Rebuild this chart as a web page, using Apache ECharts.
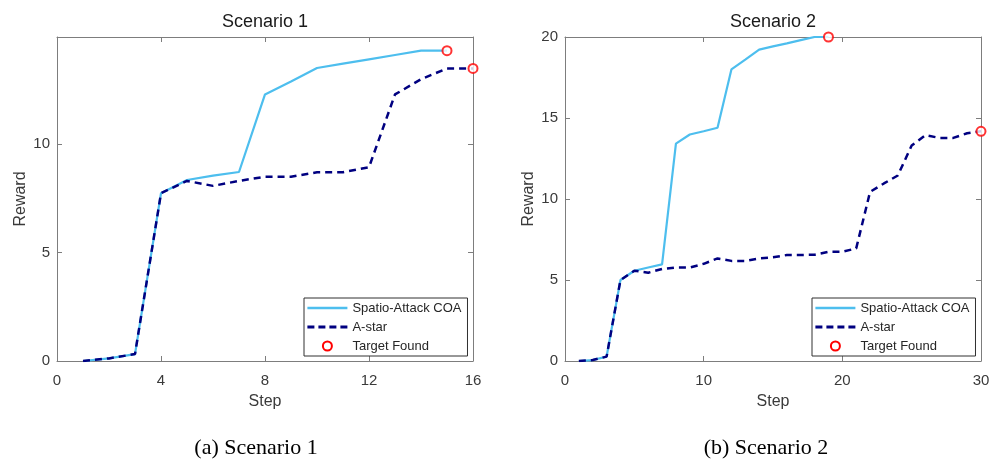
<!DOCTYPE html>
<html>
<head>
<meta charset="utf-8">
<script src="https://cdn.jsdelivr.net/npm/echarts@6/dist/echarts.min.js"></script>
<style>
html,body{margin:0;padding:0;background:#fff;}
#chart{width:1000px;height:468px;}
</style>
</head>
<body>
<div id="chart"></div>
<script>
// ---- data ----
const seriesNames = ['Spatio-Attack COA', 'A-star', 'Target Found'];
const plotTitles = ['Scenario 1', 'Scenario 2'];
const captions = ['(a) Scenario 1', '(b) Scenario 2'];
const xAxisTicks1 = [0, 4, 8, 12, 16];
const yAxisTicks1 = [0, 5, 10];
const xAxisTicks2 = [0, 10, 20, 30];
const yAxisTicks2 = [0, 5, 10, 15, 20];

// Scenario 1 (steps start at 1)
const coaS1 = [0, 0.12, 0.32, 7.74, 8.35, 8.55, 8.72, 12.3, 12.9, 13.52, 13.72, 13.92, 14.12, 14.32, 14.32];
const astarS1 = [0, 0.12, 0.32, 7.74, 8.31, 8.08, 8.31, 8.5, 8.5, 8.71, 8.71, 8.94, 12.3, 13.0, 13.5, 13.5];
// Scenario 2
const coaS2 = [0, 0.06, 0.27, 5.0, 5.57, 5.77, 5.96, 13.42, 13.98, 14.18, 14.4, 18.0, 18.6, 19.22, 19.42, 19.61, 19.81, 20, 20];
const astarS2 = [0, 0.06, 0.27, 5.0, 5.57, 5.45, 5.68, 5.77, 5.77, 6.0, 6.33, 6.18, 6.18, 6.33, 6.4, 6.54, 6.54, 6.56, 6.74, 6.74, 6.95, 10.44, 10.96, 11.45, 13.3, 13.94, 13.77, 13.77, 14.06, 14.18];

// ---- helpers ----
const toPts = arr => arr.map((v, i) => [i + 1, v]);
const lastPt = arr => [arr.length, arr[arr.length - 1]];

const FONT = 'Liberation Sans, Arial, Helvetica, sans-serif';
const AXIS_COLOR = '#7d7d7d';
const TEXT_COLOR = '#3a3a3a';
const COA_COLOR = '#4DBEEE';
const ASTAR_COLOR = '#000080';
const TARGET_COLOR = '#ff0000';

function lineAx() {
  return { show: true, onZero: false, lineStyle: { color: AXIS_COLOR, width: 1 } };
}
function tickAx() {
  return { show: true, inside: true, length: 5, lineStyle: { color: AXIS_COLOR } };
}
function mainX(gi, ticks, name) {
  const iv = ticks[1] - ticks[0];
  return {
    type: 'value', gridIndex: gi, position: 'bottom',
    min: ticks[0], max: ticks[ticks.length - 1], interval: iv,
    name: name, nameLocation: 'middle', nameGap: 33,
    nameTextStyle: { fontFamily: FONT, fontSize: 16, color: TEXT_COLOR },
    axisLine: lineAx(), axisTick: tickAx(),
    axisLabel: { fontFamily: FONT, fontSize: 15, color: TEXT_COLOR, margin: 12 },
    splitLine: { show: false }
  };
}
function auxX(gi, ticks) {
  const iv = ticks[1] - ticks[0];
  return {
    type: 'value', gridIndex: gi, position: 'top',
    min: ticks[0], max: ticks[ticks.length - 1], interval: iv,
    axisLine: lineAx(), axisTick: tickAx(),
    axisLabel: { show: false }, splitLine: { show: false }
  };
}
function mainY(gi, ticks, max, gap) {
  const iv = ticks[1] - ticks[0];
  return {
    type: 'value', gridIndex: gi, position: 'left',
    min: ticks[0], max: max, interval: iv,
    name: 'Reward', nameLocation: 'middle', nameGap: gap,
    nameTextStyle: { fontFamily: FONT, fontSize: 16, color: TEXT_COLOR },
    axisLine: lineAx(), axisTick: tickAx(),
    axisLabel: { fontFamily: FONT, fontSize: 15, color: TEXT_COLOR, margin: 7,
      formatter: v => (ticks.indexOf(v) >= 0 ? String(v) : '') },
    splitLine: { show: false }
  };
}
function auxY(gi, ticks, max) {
  const iv = ticks[1] - ticks[0];
  return {
    type: 'value', gridIndex: gi, position: 'right',
    min: ticks[0], max: max, interval: iv,
    axisLine: lineAx(), axisTick: tickAx(),
    axisLabel: { show: false }, splitLine: { show: false }
  };
}
function seriesFor(xi, yi, coa, astar) {
  return [
    { name: seriesNames[0], type: 'line', xAxisIndex: xi, yAxisIndex: yi, data: toPts(coa),
      showSymbol: false, symbol: 'none', lineStyle: { color: COA_COLOR, width: 2.2 },
      itemStyle: { color: COA_COLOR }, z: 2, animation: false },
    { name: seriesNames[1], type: 'line', xAxisIndex: xi, yAxisIndex: yi, data: toPts(astar),
      showSymbol: false, symbol: 'none', lineStyle: { color: ASTAR_COLOR, width: 2.5, type: [7, 5] },
      itemStyle: { color: ASTAR_COLOR }, z: 3, animation: false },
    { name: seriesNames[2], type: 'scatter', xAxisIndex: xi, yAxisIndex: yi,
      data: [lastPt(coa), lastPt(astar)], symbol: 'emptyCircle', symbolSize: 9, clip: false,
      itemStyle: { color: TARGET_COLOR, borderColor: TARGET_COLOR, borderWidth: 2.4 }, z: 4, animation: false }
  ];
}
function legendAt(left) {
  return {
    left: left, top: 298, orient: 'vertical', selectedMode: false,
    itemWidth: 40, itemHeight: 9, itemGap: 5,
    padding: [3, 6, 3, 2],
    borderColor: '#303030', borderWidth: 1, backgroundColor: '#ffffff',
    textStyle: { fontFamily: FONT, fontSize: 13, color: '#262626', lineHeight: 14 },
    data: [
      { name: seriesNames[0], itemStyle: { opacity: 0 }, lineStyle: { width: 2.6, color: COA_COLOR } },
      { name: seriesNames[1], itemStyle: { opacity: 0 }, lineStyle: { width: 2.8, color: ASTAR_COLOR, type: [7, 4] } },
      { name: seriesNames[2], itemStyle: { color: TARGET_COLOR, borderColor: TARGET_COLOR, borderWidth: 2.4, opacity: 1 } }
    ]
  };
}
function titleAt(x, y, text, size, family, color) {
  return { text: text, left: x, top: y, textAlign: 'center', padding: 0,
    textStyle: { fontFamily: family, fontSize: size, fontWeight: 'normal', color: color } };
}

const chart = echarts.init(document.getElementById('chart'), null, { renderer: 'canvas' });
chart.setOption({
  backgroundColor: '#ffffff',
  animation: false,
  title: [
    titleAt(265, 13, plotTitles[0], 18, FONT, '#1a1a1a'),
    titleAt(773, 13, plotTitles[1], 18, FONT, '#1a1a1a'),
    titleAt(256, 437, captions[0], 22, 'Liberation Serif, Times New Roman, serif', '#000'),
    titleAt(766, 437, captions[1], 22, 'Liberation Serif, Times New Roman, serif', '#000')
  ],
  grid: [
    { left: 57, top: 37, width: 416, height: 324 },
    { left: 565, top: 37, width: 416, height: 324 }
  ],
  xAxis: [
    mainX(0, xAxisTicks1, 'Step'), auxX(0, xAxisTicks1),
    mainX(1, xAxisTicks2, 'Step'), auxX(1, xAxisTicks2)
  ],
  yAxis: [
    mainY(0, yAxisTicks1, 14.95, 28), auxY(0, yAxisTicks1, 14.95),
    mainY(1, yAxisTicks2, 20, 28), auxY(1, yAxisTicks2, 20)
  ],
  legend: [legendAt(304), legendAt(812)],
  series: [].concat(seriesFor(0, 0, coaS1, astarS1), seriesFor(2, 2, coaS2, astarS2))
});
</script>
</body>
</html>
